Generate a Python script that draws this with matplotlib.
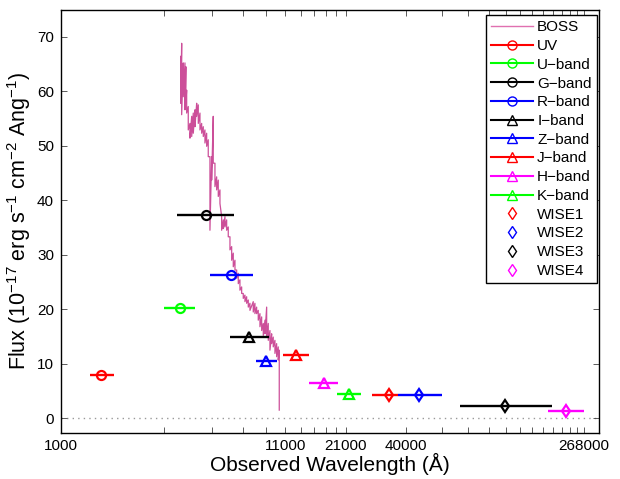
import numpy as np
import matplotlib.pyplot as plt
from matplotlib.lines import Line2D
from matplotlib.ticker import NullLocator

plt.rcParams['font.family'] = ['Liberation Sans', 'DejaVu Sans']
plt.rcParams['mathtext.fontset'] = 'custom'
plt.rcParams['mathtext.rm'] = 'Liberation Sans'
plt.rcParams['mathtext.it'] = 'Liberation Sans:italic'

# BOSS spectrum: wavelength (A) with the upper / lower edge of the noisy trace
spec_wave = [3595, 3634, 3696, 3764, 3800, 3833, 3899, 3970, 4045, 4114,
             4190, 4266, 4340, 4419, 4500, 4578, 4661, 4747, 4828, 4917,
             5007, 5093, 5187, 5282, 5374, 5472, 5572, 5669, 5773, 5879,
             5980, 6090, 6202, 6309, 6425, 6543, 6656, 6776, 6901, 7020,
             7149, 7280, 7407, 7542, 7812, 7954, 8100, 8241, 8393, 8547,
             8695, 8855, 9016, 9172, 9339, 9510, 9674, 9852, 10032, 10205,
             10316]
spec_hi = [66.4, 68.8, 65.2, 65.2, 64.5, 60.2, 57.2, 54.1, 55.4, 56.0,
           56.6, 57.8, 57.5, 56.0, 54.1, 53.5, 52.9, 52.3, 51.1, 48.0,
           48.0, 55.4, 46.8, 44.3, 43.7, 41.9, 37.0, 36.4, 37.0, 36.4,
           35.1, 33.3, 31.5, 30.3, 29.0, 27.2, 26.6, 25.4, 24.1, 22.9,
           22.6, 22.3, 21.7, 21.1, 21.4, 21.1, 20.4, 19.8, 19.2, 18.6,
           17.4, 18.0, 20.4, 17.4, 16.1, 15.5, 14.9, 14.3, 13.7, 13.1,
           12.5]
spec_lo = [57.8, 55.7, 59.0, 56.6, 57.8, 56.0, 52.9, 51.4, 51.7, 52.3,
           53.5, 55.4, 54.1, 52.9, 52.3, 51.7, 50.5, 49.9, 48.0, 34.5,
           43.7, 46.8, 42.5, 41.9, 40.7, 39.4, 34.5, 34.8, 35.1, 34.5,
           33.3, 30.9, 29.0, 27.8, 27.2, 25.7, 24.7, 23.5, 22.9, 22.0,
           21.4, 21.1, 20.4, 19.8, 19.5, 19.2, 19.2, 18.0, 16.8, 16.1,
           15.2, 15.5, 14.9, 14.3, 12.5, 13.7, 13.1, 11.9, 11.3, 10.7,
           1.5]

# photometry: name, central wavelength, band edges and flux
band_names = ['UV', 'U\u2212band', 'G\u2212band', 'R\u2212band', 'I\u2212band',
              'Z\u2212band', 'J\u2212band', 'H\u2212band', 'K\u2212band',
              'WISE1', 'WISE2', 'WISE3', 'WISE4']
band_wave = [1540, 3566, 4700, 6152, 7493, 8940, 12350, 16620, 21700,
             33530, 46030, 115600, 220900]
band_lo = [1359, 3011, 3468, 4917, 6090, 8009, 10770, 14220, 19150,
           27790, 36580, 71330, 182400]
band_hi = [1769, 4190, 6355, 7817, 9270, 10030, 14220, 19430, 24760,
           36580, 58480, 191200, 268300]
band_flux = [7.9, 20.3, 37.3, 26.3, 14.9, 10.5, 11.6, 6.4, 4.4,
             4.3, 4.3, 2.2, 1.3]

colors = ['red', 'lime', 'black', 'blue', 'black', 'blue', 'red', 'magenta',
          'lime', 'red', 'blue', 'black', 'magenta']
markers = ['o'] * 4 + ['^'] * 5 + ['d'] * 4

fig = plt.figure(figsize=(6.2, 4.79), dpi=100)
ax = fig.add_axes([61 / 620, 1 - 433 / 479, 538 / 620, 423.5 / 479])

boss_color = '#cc4f99'
wave = np.repeat(spec_wave, 2)
flux = np.column_stack([spec_hi, spec_lo]).ravel()
ax.plot(wave, flux, color=boss_color, lw=0.9, zorder=3)

ax.axhline(0, color='0.6', ls=(0, (1, 3)), lw=1, zorder=1)

handles = [Line2D([], [], color='#e070b0', lw=1, label='BOSS')]
for i in range(len(band_names)):
    w = band_wave[i]
    ax.errorbar(w, band_flux[i], xerr=[[w - band_lo[i]], [band_hi[i] - w]],
                fmt=markers[i], color=colors[i], mfc='none', mec=colors[i],
                ms=6.5, mew=1.6, elinewidth=1.7, capsize=0, zorder=4)
    ls = 'none' if band_names[i].startswith('WISE') else '-'
    handles.append(Line2D([], [], color=colors[i], ls=ls, lw=1.5,
                          marker=markers[i], mfc='none', mec=colors[i],
                          ms=6.5, mew=1, label=band_names[i]))

ax.set_xscale('log')
ax.set_xlim(1000, 3.15e5)
ax.set_ylim(-2.7, 75)

xt = list(range(1000, 21001, 2000)) + list(range(40000, 268001, 19000))
shown = [1000, 11000, 21000, 40000, 268000]
ax.xaxis.set_minor_locator(NullLocator())
ax.set_xticks(xt)
ax.set_xticklabels([str(t) if t in shown else '' for t in xt])
ax.set_yticks(range(0, 71, 10))

ax.tick_params(direction='in', length=4, width=0.6, top=True, right=True,
               labelsize=11, color='0.25')
ax.tick_params(axis='x', pad=4)
ax.tick_params(axis='y', pad=5)
for s in ax.spines.values():
    s.set_linewidth(1.0)

ax.set_xlabel('Observed Wavelength (\u00c5)', fontsize=15, labelpad=0)
ax.set_ylabel(r'Flux (10$^{-17}$ erg s$^{-1}$ cm$^{-2}$ Ang$^{-1}$)',
              fontsize=15.5, labelpad=3)

leg = ax.legend(handles=handles, loc='upper right',
                bbox_to_anchor=((597 - 61) / 538, (433 - 15) / 423.5),
                borderaxespad=0, fontsize=11, handlelength=2.7,
                handletextpad=0.3, labelspacing=0.31, borderpad=0.35,
                fancybox=False, framealpha=1, edgecolor='black')
leg.get_frame().set_linewidth(1.0)

fig.savefig('out.png', dpi=100)
